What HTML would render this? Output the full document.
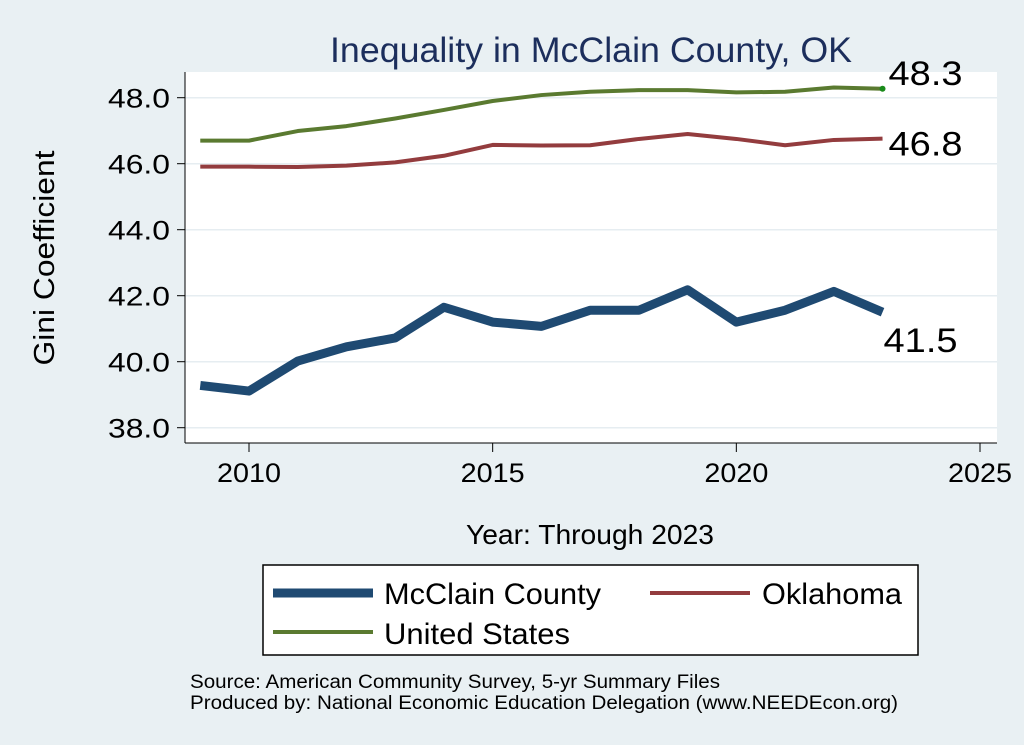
<!DOCTYPE html>
<html><head><meta charset="utf-8"><style>
body{margin:0;background:#e9f0f3;}
svg{display:block;font-family:"Liberation Sans",Arial,sans-serif;}
</style></head><body>
<svg id="chart" width="1024" height="745" viewBox="0 0 1024 745">
<rect x="0" y="0" width="1024" height="745" fill="#e9f0f3"/>
<text x="591" y="62" text-anchor="middle" font-size="35" textLength="522" lengthAdjust="spacingAndGlyphs" fill="#1c2e5c">Inequality in McClain County, OK</text>
<rect x="185" y="72" width="812" height="371" fill="#ffffff"/>
<g id="grid"></g>
<g id="axes"></g>
<g id="series"></g>
<text transform="translate(54,258) rotate(-90)" text-anchor="middle" font-size="29" textLength="215" lengthAdjust="spacingAndGlyphs" fill="#000">Gini Coefficient</text>
<text x="590" y="544" text-anchor="middle" font-size="28" textLength="248" lengthAdjust="spacingAndGlyphs" fill="#000">Year: Through 2023</text>
<g>
<rect x="263" y="565" width="655" height="90" fill="#fff" stroke="#000" stroke-width="1.5"/>
<line x1="273" y1="593" x2="373" y2="593" stroke="#1f4a72" stroke-width="9"/>
<text x="384" y="604" font-size="30" textLength="217" lengthAdjust="spacingAndGlyphs">McClain County</text>
<line x1="650" y1="593" x2="750" y2="593" stroke="#933c3e" stroke-width="4"/>
<text x="762" y="604" font-size="30" textLength="140" lengthAdjust="spacingAndGlyphs">Oklahoma</text>
<line x1="273" y1="632" x2="373" y2="632" stroke="#5a7a30" stroke-width="4"/>
<text x="384" y="644" font-size="30" textLength="186" lengthAdjust="spacingAndGlyphs">United States</text>
</g>
<text x="190" y="688" font-size="19" textLength="530" lengthAdjust="spacingAndGlyphs">Source: American Community Survey, 5-yr Summary Files</text>
<text x="190" y="709" font-size="19" textLength="708" lengthAdjust="spacingAndGlyphs">Produced by: National Economic Education Delegation (www.NEEDEcon.org)</text>
</svg>
<script>
const years=[2009,2010,2011,2012,2013,2014,2015,2016,2017,2018,2019,2020,2021,2022,2023];
const mcclain=[39.28,39.11,40.02,40.45,40.72,41.65,41.2,41.07,41.56,41.56,42.18,41.2,41.56,42.13,41.5];
const oklahoma=[45.91,45.91,45.9,45.94,46.04,46.24,46.57,46.55,46.56,46.75,46.9,46.75,46.56,46.72,46.76];
const us=[46.7,46.7,46.99,47.14,47.37,47.63,47.9,48.08,48.18,48.23,48.23,48.16,48.18,48.31,48.27];
const yTicks=[38,40,42,44,46,48];
const xTicks=[2010,2015,2020,2025];
const endLabels=["41.5","46.8","48.3"];
const NS="http://www.w3.org/2000/svg";
function X(v){return 249+(v-2010)*(980-249)/15;}
function Y(v){return 427.7-(v-38)*(427.7-97.7)/10;}
function mk(tag,attrs,parent){const e=document.createElementNS(NS,tag);for(const k in attrs)e.setAttribute(k,attrs[k]);document.getElementById(parent).appendChild(e);return e;}
yTicks.forEach(t=>{
 const g=mk('line',{x1:185,x2:997,y1:Y(t),y2:Y(t),stroke:'#e6edf1','stroke-width':1.5},'grid');
 
 
 const tk=mk('line',{x1:177,x2:185,y1:Y(t),y2:Y(t),stroke:'#000','stroke-width':1},'axes');
 
 
 const l=mk('text',{x:170,y:Y(t)+10,'text-anchor':'end','font-size':27,textLength:62,lengthAdjust:'spacingAndGlyphs'},'axes');
 l.textContent=t.toFixed(1);
 
 
});
xTicks.forEach(t=>{
 const tk=mk('line',{x1:X(t),x2:X(t),y1:443,y2:452,stroke:'#000','stroke-width':1},'axes');
 
 
 const l=mk('text',{x:X(t),y:482,'text-anchor':'middle','font-size':27,textLength:64,lengthAdjust:'spacingAndGlyphs'},'axes');
 l.textContent=t;
 
 
});
const ya=mk('line',{x1:185,x2:185,y1:72,y2:443,stroke:'#000','stroke-width':1},'axes');


const xa=mk('line',{x1:185,x2:997,y1:443,y2:443,stroke:'#000','stroke-width':1},'axes');


const ser=[[us,'#5a7a30',4,'line-us'],[oklahoma,'#933c3e',4,'line-oklahoma'],[mcclain,'#1f4a72',9,'line-mcclain']];
ser.forEach(s=>{
 const p=mk('polyline',{points:years.map((y,i)=>X(y)+','+Y(s[0][i])).join(' '),fill:'none',stroke:s[1],'stroke-width':s[2],'stroke-linejoin':'round'},'series');
 
 
});
const last=years.length-1;
const dot=mk('circle',{cx:X(years[last]),cy:Y(us[last]),r:3,fill:'#1a8a1a'},'series');


const l1=mk('text',{x:X(years[last])+1,y:Y(mcclain[last])+40,'font-size':34,textLength:74,lengthAdjust:'spacingAndGlyphs'},'series');
l1.textContent=endLabels[0];


const l2=mk('text',{x:X(years[last])+6,y:Y(oklahoma[last])+17,'font-size':34,textLength:74,lengthAdjust:'spacingAndGlyphs'},'series');
l2.textContent=endLabels[1];


const l3=mk('text',{x:X(years[last])+6,y:Y(us[last])-4,'font-size':34,textLength:74,lengthAdjust:'spacingAndGlyphs'},'series');
l3.textContent=endLabels[2];


</script>
</body></html>
